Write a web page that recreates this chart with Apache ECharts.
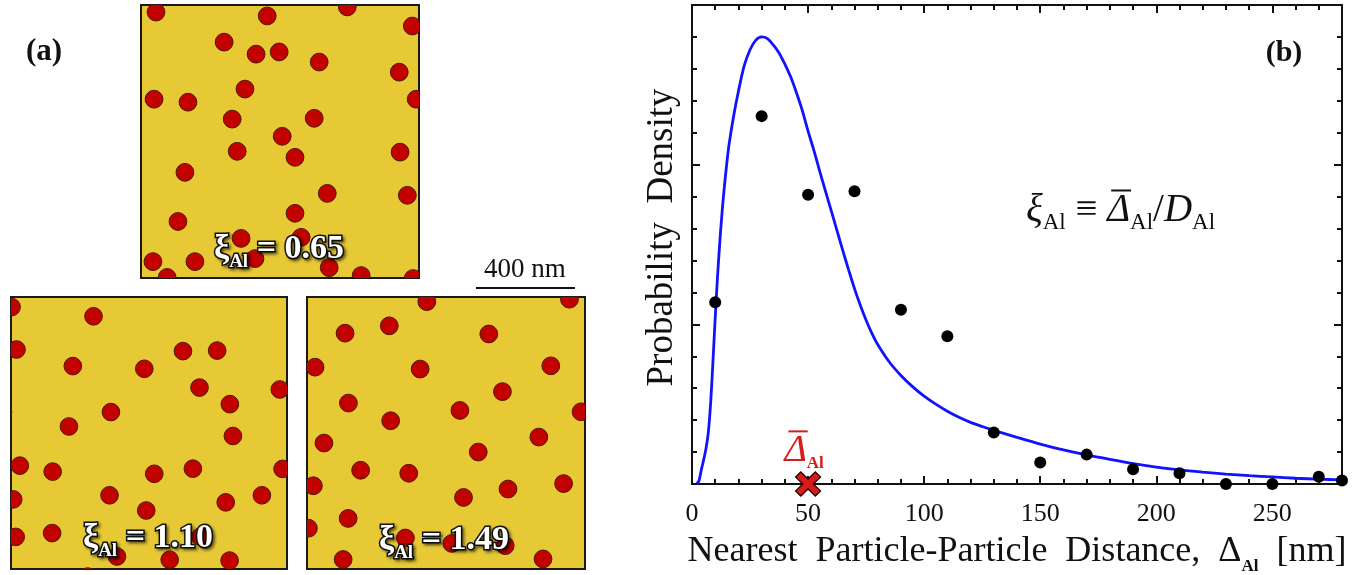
<!DOCTYPE html>
<html>
<head>
<meta charset="utf-8">
<script src="https://cdn.jsdelivr.net/npm/echarts@6/dist/echarts.min.js"></script>
<style>
  html, body { margin: 0; padding: 0; background: #ffffff; }
  #chart { width: 1359px; height: 575px; }
</style>
</head>
<body>
<div id="chart"></div>
<script>
// ---------- Panel (a): particle fields, positions in nm (x to the right, y downward) ----------
const fieldSize = 1000;          // side of each simulated field
const particleRadius = 32;       // particle radius
const field065 = [
  [54,26],[454,40],[742,7],[976,77],[299,136],[414,180],[497,172],[641,209],[929,246],
  [374,308],[47,345],[169,356],[990,345],[328,418],[623,415],[508,481],[346,536],[554,558],
  [932,539],[158,613],[670,690],[958,697],[554,763],[133,793],[360,855],[576,851],[43,940],
  [194,940],[410,929],[677,962],[94,998],[792,991],[979,1002]
];
const field110 = [
  [2,37],[299,71],[20,193],[623,199],[747,197],[224,254],[483,264],[683,333],[974,340],
  [793,394],[362,423],[-29,422],[210,476],[804,511],[32,620],[151,642],[519,650],[659,631],
  [984,632],[8,744],[357,729],[909,729],[778,755],[490,785],[17,882],[149,868],[384,954],
  [575,966],[792,969],[686,881],[278,1028]
];
const field149 = [
  [431,17],[944,8],[137,133],[296,106],[654,136],[29,258],[407,265],[877,253],[703,348],
  [149,390],[550,417],[986,422],[301,455],[61,537],[834,515],[616,570],[193,637],[366,648],
  [23,694],[563,737],[723,706],[923,686],[148,814],[5,850],[354,886],[521,906],[713,914],
  [130,965],[849,963]
];
const fieldXi = ['0.65', '1.10', '1.49'];

// ---------- Panel (b): nearest particle-particle distance distribution ----------
const binCenters = [10, 30, 50, 70, 90, 110, 130, 150, 170, 190, 210, 230, 250, 270, 280];
const binDensity = [5.69, 11.52, 9.06, 9.17, 5.46, 4.63, 1.61, 0.67, 0.92, 0.46, 0.34, 0, 0, 0.23, 0.11];
const fitX = [2, 3, 4, 5, 6, 7, 8, 9, 10, 11, 12, 13, 14, 15, 16, 18, 20, 22.5, 25, 27.5, 30, 32.5, 35,
  37.5, 40, 42.5, 45, 47.5, 50, 52.5, 55, 57.5, 60, 62.5, 65, 67.5, 70, 72.5, 75, 77.5, 80, 85, 90,
  95, 100, 105, 110, 115, 120, 125, 130, 140, 150, 160, 170, 180, 190, 200, 210, 220, 230, 240, 250,
  260, 270, 280];
const fitY = [0, 0.1, 0.44, 0.75, 1.1, 1.6, 2.5, 3.8, 5.2, 6.5, 7.6, 8.55, 9.35, 10.05, 10.65, 11.55,
  12.3, 13.1, 13.6, 13.9, 14.0, 13.95, 13.75, 13.5, 13.15, 12.75, 12.25, 11.7, 11.05, 10.45, 9.8,
  9.17, 8.55, 7.93, 7.3, 6.7, 6.12, 5.6, 5.13, 4.72, 4.37, 3.82, 3.4, 3.05, 2.75, 2.5, 2.28, 2.09,
  1.93, 1.8, 1.68, 1.46, 1.25, 1.07, 0.91, 0.77, 0.64, 0.53, 0.44, 0.37, 0.31, 0.26, 0.22, 0.18,
  0.15, 0.13];
const meanDistance = 50;
const xTickLabels = [0, 50, 100, 150, 200, 250];

const SERIF = '"Liberation Serif", "Times New Roman", serif';
const measureCtx = document.createElement('canvas').getContext('2d');
function textWidth(font, s) { measureCtx.font = font; return measureCtx.measureText(s).width; }

const chart = echarts.init(document.getElementById('chart'));

const squareGrids = [
  { left: 141, top: 5, width: 278, height: 273 },
  { left: 11, top: 297, width: 276, height: 272 },
  { left: 307, top: 297, width: 278, height: 272 }
];
const plotRect = { left: 692, top: 5, width: 650, height: 479 };

const grids = squareGrids.map(g => Object.assign({
  show: true, backgroundColor: '#e6c935', borderColor: '#1a1a1a', borderWidth: 2, outerBoundsMode: 'none'
}, g));
grids.push(Object.assign({ show: false, outerBoundsMode: 'none' }, plotRect));   // 3: data grid
grids.push(Object.assign({ show: false, outerBoundsMode: 'none' }, plotRect));   // 4: minor-tick frame

const xAxes = [], yAxes = [];
for (let i = 0; i < 3; i++) {
  xAxes.push({ type: 'value', gridIndex: i, min: 0, max: fieldSize, show: false });
  yAxes.push({ type: 'value', gridIndex: i, min: 0, max: fieldSize, inverse: true, show: false });
}
const frameLine = { show: true, onZero: false, lineStyle: { color: '#111', width: 2 } };
// grid 3, major ticks
xAxes.push({
  type: 'value', gridIndex: 3, position: 'bottom', min: 0, max: 280, interval: 50,
  axisLine: frameLine,
  axisTick: { show: true, inside: true, length: 8, lineStyle: { color: '#111', width: 2 } },
  splitLine: { show: false },
  axisLabel: {
    show: true, margin: 17, color: '#111', fontFamily: SERIF, fontSize: 26,
    formatter: v => (xTickLabels.indexOf(v) >= 0 ? String(v) : '')
  },
  name: '{t|Nearest  Particle-Particle  Distance,  Δ}{s|Al}{t|  [nm]}',
  nameLocation: 'middle', nameGap: 50,
  nameTextStyle: {
    rich: {
      t: { fontFamily: SERIF, fontSize: 36, color: '#111', verticalAlign: 'bottom', padding: [0, 0, 5, 0] },
      s: { fontFamily: SERIF, fontSize: 17, fontWeight: 'bold', color: '#111', verticalAlign: 'bottom' }
    }
  }
});
xAxes.push({
  type: 'value', gridIndex: 3, position: 'top', min: 0, max: 280, interval: 50,
  axisLine: frameLine,
  axisTick: { show: true, inside: true, length: 8, lineStyle: { color: '#111', width: 2 } },
  axisLabel: { show: false }, splitLine: { show: false }
});
const yTick = {
  type: 'value', gridIndex: 3, min: 0, max: 15, interval: 5,
  axisLine: frameLine,
  axisTick: { show: true, inside: true, length: 8, lineStyle: { color: '#111', width: 2 } },
  minorTick: { show: true, splitNumber: 5, length: 5, lineStyle: { color: '#111', width: 2 } },
  axisLabel: { show: false }, splitLine: { show: false }, minorSplitLine: { show: false }
};
yAxes.push(Object.assign({}, yTick, {
  position: 'left', name: 'Probability  Density', nameLocation: 'middle', nameGap: 11,
  nameTextStyle: { fontFamily: SERIF, fontSize: 37, color: '#111', padding: [0, 0, 0, 14] }
}));
yAxes.push(Object.assign({}, yTick, { position: 'right' }));
// grid 4, minor ticks every 10 nm
['bottom', 'top'].forEach(p => xAxes.push({
  type: 'value', gridIndex: 4, position: p, min: 0, max: 280, interval: 10,
  axisLine: { show: false },
  axisTick: { show: true, inside: true, length: 5, lineStyle: { color: '#111', width: 2 } },
  axisLabel: { show: false }, splitLine: { show: false }
}));
yAxes.push({ type: 'value', gridIndex: 4, min: 0, max: 15, show: false });

const series = [];
[field065, field110, field149].forEach((pts, i) => {
  series.push({
    type: 'custom', xAxisIndex: i, yAxisIndex: i, clip: true, silent: true,
    data: pts,
    renderItem: (params, api) => {
      const c = api.coord([api.value(0), api.value(1)]);
      const r = api.size([particleRadius, 0])[0];
      return {
        type: 'circle', shape: { cx: c[0], cy: c[1], r: r },
        style: { fill: '#c20000', stroke: '#4d1a00', lineWidth: 1 }
      };
    }
  });
});
series.push({
  type: 'line', xAxisIndex: 3, yAxisIndex: 3, smooth: 0.3, showSymbol: false,
  data: fitX.map((x, i) => [x, fitY[i]]),
  lineStyle: { color: '#1212ff', width: 2.8 }, z: 3
});
series.push({
  type: 'scatter', xAxisIndex: 3, yAxisIndex: 3, clip: false,
  data: binCenters.map((x, i) => [x, binDensity[i]]),
  symbol: 'circle', symbolSize: 12, itemStyle: { color: '#000', opacity: 1 }, z: 4
});

// mean-distance marker with an overlined label
const RED = '#d81c1c';
const deltaFont = 'italic 38px ' + SERIF;
const subFontRed = 'bold 17px ' + SERIF;
const wDeltaRed = textWidth(deltaFont, 'Δ');
const wSubRed = textWidth(subFontRed, 'Al');
series.push({
  type: 'scatter', xAxisIndex: 3, yAxisIndex: 3, clip: false,
  data: [[meanDistance, 0]],
  symbol: 'path://M0,5 L5,0 L12,7 L19,0 L24,5 L17,12 L24,19 L19,24 L12,17 L5,24 L0,19 L7,12 Z',
  symbolSize: [25, 24],
  itemStyle: { color: RED, borderColor: '#2a0505', borderWidth: 1.3, opacity: 1 },
  label: {
    show: true, position: 'top', distance: -1, offset: [-4, 0],
    formatter: '{p|}{b|}{q|}\n{d|Δ}{s|Al}',
    rich: {
      p: { width: 4, height: 2 },
      b: { width: wDeltaRed - 3, height: 2, backgroundColor: RED },
      q: { width: wSubRed - 1, height: 2 },
      d: { fontFamily: SERIF, fontStyle: 'italic', fontSize: 38, color: RED, verticalAlign: 'bottom', padding: [0, 0, 2, 0] },
      s: { fontFamily: SERIF, fontWeight: 'bold', fontSize: 17, color: RED, verticalAlign: 'bottom' }
    }
  },
  z: 5
});

// white particle-field labels with dark outline
const outline = { fill: '#fff', stroke: '#111', lineWidth: 3,
  textShadowColor: 'rgba(0,0,0,0.45)', textShadowBlur: 3, textShadowOffsetX: 2, textShadowOffsetY: 2 };
const labelCenters = [[279, 252], [148, 541], [444, 543]];
const fieldLabels = fieldXi.map((v, i) => ({
  type: 'text', x: labelCenters[i][0], y: labelCenters[i][1], z: 50,
  style: {
    text: '{x|ξ}{s|Al}{t| = ' + v + '}', align: 'center', verticalAlign: 'middle',
    rich: {
      x: Object.assign({ fontFamily: SERIF, fontWeight: 'bold', fontSize: 34, verticalAlign: 'bottom', padding: [0, 0, 5, 0] }, outline),
      s: Object.assign({ fontFamily: SERIF, fontWeight: 'bold', fontSize: 19, verticalAlign: 'bottom' }, outline),
      t: Object.assign({ fontFamily: SERIF, fontWeight: 'bold', fontSize: 34, verticalAlign: 'bottom', padding: [0, 0, 5, 0] }, outline)
    }
  }
}));

// definition of xi in panel (b)
const fSize = 39, fSub = 23;
const wLead = textWidth('italic ' + fSize + 'px ' + SERIF, 'ξ') + textWidth(fSub + 'px ' + SERIF, 'Al') +
  textWidth(fSize + 'px ' + SERIF, ' ≡ ');
const wDelta = textWidth('italic ' + fSize + 'px ' + SERIF, 'Δ');

const graphics = fieldLabels.concat([
  { type: 'text', x: 44, y: 52, z: 50,
    style: { text: '(a)', font: 'bold 31px ' + SERIF, fill: '#111', align: 'center', verticalAlign: 'middle' } },
  { type: 'text', x: 1284, y: 53, z: 50,
    style: { text: '(b)', font: 'bold 30px ' + SERIF, fill: '#111', align: 'center', verticalAlign: 'middle' } },
  { type: 'text', x: 525, y: 270, z: 50,
    style: { text: '400 nm', font: '27px ' + SERIF, fill: '#111', align: 'center', verticalAlign: 'middle' } },
  { type: 'line', z: 50, shape: { x1: 476, y1: 288, x2: 575, y2: 288 }, style: { stroke: '#111', lineWidth: 2 } },
  { type: 'text', x: 1026, y: 212, z: 50,
    style: {
      text: '{g|}{b|}\n{i|ξ}{s|Al}{o| ≡ }{i|Δ}{s|Al}{o|/}{i|D}{s|Al}', align: 'left', verticalAlign: 'middle',
      rich: {
        g: { width: wLead + 4, height: 2 },
        b: { width: wDelta - 3, height: 2, backgroundColor: '#111' },
        i: { fontFamily: SERIF, fontStyle: 'italic', fontSize: fSize, fill: '#111', verticalAlign: 'bottom', padding: [0, 0, 4, 0] },
        o: { fontFamily: SERIF, fontSize: fSize, fill: '#111', verticalAlign: 'bottom', padding: [0, 0, 4, 0] },
        s: { fontFamily: SERIF, fontSize: fSub, fill: '#111', verticalAlign: 'bottom' }
      }
    } }
]);

chart.setOption({
  animation: false,
  backgroundColor: '#ffffff',
  grid: grids,
  xAxis: xAxes,
  yAxis: yAxes,
  series: series,
  graphic: graphics
});
</script>
</body>
</html>
